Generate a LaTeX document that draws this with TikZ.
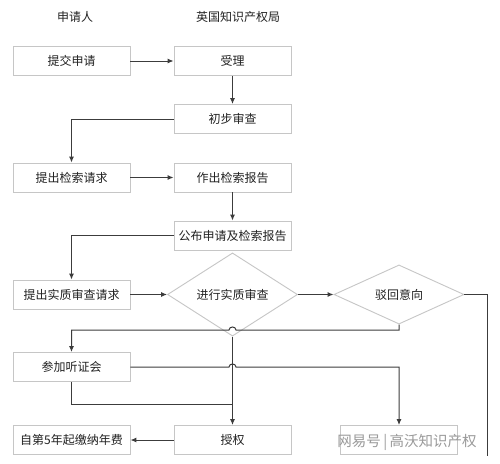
\documentclass[tikz,border=0pt]{standalone}
\usepackage{fontspec}
\setmainfont{Noto Sans CJK SC}
\usetikzlibrary{shapes.geometric,arrows.meta,calc}
\definecolor{boxgray}{HTML}{C6C6C6}
\definecolor{linegray}{HTML}{3C3C3C}
\definecolor{txt}{HTML}{222222}
\definecolor{wmgray}{HTML}{9A9A9A}
\begin{document}
\begin{tikzpicture}[x=1pt,y=-1pt,
  box/.style={draw=boxgray, line width=0.9pt, minimum width=117pt, minimum height=29pt, inner sep=0pt, font=\fontsize{12}{13}\selectfont, text=txt},
  dia/.style={diamond, draw=boxgray, line width=0.9pt, minimum width=130pt, minimum height=48pt, inner sep=0pt, font=\fontsize{12}{13}\selectfont, text=txt},
  head/.style={font=\fontsize{12}{13}\selectfont, text=txt},
  wmark/.style={font=\fontsize{14.5}{15}\selectfont, text=wmgray},
  conn/.style={draw=linegray, line width=1pt},
  arr/.style={conn, -{Latex[length=6pt,width=5pt]}}]
\useasboundingbox (0,0) rectangle (500,463);
\fill[white] (0,0) rectangle (500,463);

\node[head] (h1) at (75,17) {申请人};
\node[head] (h2) at (238,17) {英国知识产权局};

\node[box] (submit) at (71.5,61) {提交申请};
\node[box] (accept) at (232.5,61) {受理};
\node[box] (prelim) at (232.5,119) {初步审查};
\node[box] (searchreq) at (71.5,177.5) {提出检索请求};
\node[box] (report) at (232.5,177.5) {作出检索报告};
\node[box] (publish) at (232.5,235.5) {公布申请及检索报告};
\node[box] (subreq) at (71.5,294.5) {提出实质审查请求};
\node[dia] (exam) at (232.5,294.5) {进行实质审查};
\node[dia] (reject) at (399,294.5) {驳回意向};
\node[box] (hearing) at (71.5,367) {参加听证会};
\node[box] (fee) at (71.5,440) {自第5年起缴纳年费};
\node[box] (grant) at (232.5,440) {授权};
\node[box] (refuse) at (399,440) {};

\coordinate (r1) at (487,294.5);
\coordinate (r2) at (487,456);
\coordinate (j1) at (399,330);
\coordinate (ha1) at (236,330);
\coordinate (hb1) at (229,330);
\coordinate (ha2) at (229,367);
\coordinate (hb2) at (236,367);
\coordinate (m3) at (232.5,404);

\draw[arr] (submit) -- (accept);
\draw[arr] (accept) -- (prelim);
\draw[arr] (prelim.west) -| (searchreq.north);
\draw[arr] (searchreq) -- (report);
\draw[arr] (report) -- (publish);
\draw[arr] (publish.west) -| (subreq.north);
\draw[arr] (subreq) -- (exam);
\draw[arr] (exam) -- (reject);
\draw[conn] (reject.east) -- (r1) -- (r2);
\draw[arr] (exam.south) -- (grant.north);
\draw[arr] (reject.south) -- (j1) -- (ha1) .. controls ($(ha1)+(0,-4)$) and ($(hb1)+(0,-4)$) .. (hb1) -| (hearing.north);
\draw[arr] (hearing.east) -- (ha2) .. controls ($(ha2)+(0,-4)$) and ($(hb2)+(0,-4)$) .. (hb2) -| (refuse.north);
\draw[conn] (hearing.south) |- (m3);
\draw[arr] (grant) -- (fee);

\node[wmark] (wm) at (407,442) {网易号\,|\,高沃知识产权};
\end{tikzpicture}
\end{document}
